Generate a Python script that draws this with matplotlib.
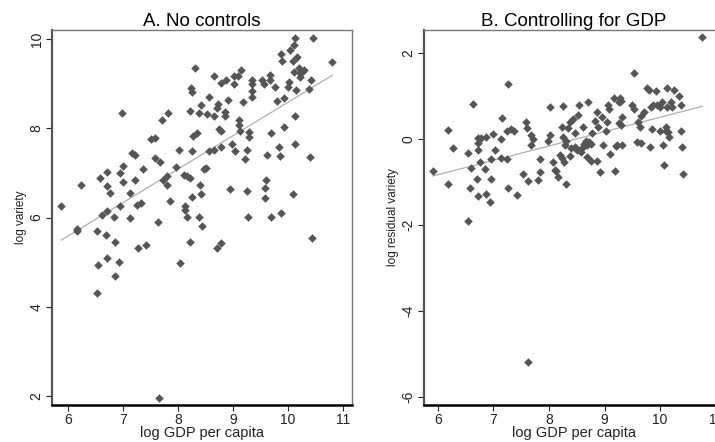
import numpy as np
import matplotlib
matplotlib.use("Agg")
import matplotlib.pyplot as plt

plt.rcParams["font.family"] = ["Liberation Sans", "DejaVu Sans"]
plt.rcParams["axes.unicode_minus"] = False

# panel A: log GDP per capita vs log variety
a_gdp = [5.88, 6.24, 6.98, 6.59, 6.71, 6.71, 6.77, 6.62, 6.71, 6.83, 6.95, 7.00,
         6.95, 7.00, 7.13, 7.13, 7.16, 7.22, 7.22, 7.25, 7.32, 7.36, 7.51, 7.59,
         7.59, 7.68, 7.70, 7.82, 7.72, 7.80, 7.80, 7.85, 7.64, 7.97, 8.02, 8.13,
         8.13, 8.10, 8.16, 8.22, 8.16, 8.25, 8.25, 8.24, 8.25, 8.22, 8.30, 8.28,
         8.35, 8.38, 8.38, 8.39, 8.41, 8.44, 8.42, 8.47, 8.50, 8.53, 8.56, 8.56,
         8.65, 8.65, 8.66, 8.70, 8.73, 8.74, 8.78, 8.78, 8.78, 8.86, 8.86, 8.88,
         8.91, 8.94, 8.98, 9.01, 9.02, 9.08, 9.03, 9.10, 9.10, 9.12, 9.15, 9.18,
         9.21, 9.25, 9.26, 9.27, 9.28, 9.28, 9.35, 9.35, 9.35, 9.35, 9.53, 9.56,
         9.58, 9.59, 9.58, 9.62, 9.67, 9.67, 9.69, 9.69, 9.77, 9.80, 9.84, 9.85,
         9.87, 9.88, 9.87, 9.93, 9.93, 9.99, 10.02, 10.03, 10.08, 10.10, 10.13, 10.13,
         10.13, 10.15, 10.09, 10.16, 10.11, 10.19, 10.22, 10.25, 10.28, 10.22, 10.38, 10.41,
         10.39, 10.45, 10.80, 6.16, 6.16, 6.53, 6.70, 6.85, 7.27, 7.42, 6.54, 6.71,
         6.93, 6.85, 6.53, 8.04, 8.22, 8.71, 8.78, 10.44, 7.66]
a_var = [6.25, 6.73, 8.33, 6.88, 7.03, 6.70, 6.56, 6.06, 6.14, 6.02, 6.25, 7.16,
         7.00, 6.79, 6.55, 6.00, 7.44, 7.41, 6.85, 6.29, 6.32, 7.09, 7.76, 7.78,
         7.33, 7.24, 8.19, 8.33, 6.85, 6.73, 6.94, 6.36, 5.91, 7.12, 7.52, 6.25,
         6.17, 6.96, 6.94, 6.88, 6.02, 7.48, 6.47, 8.90, 8.80, 8.39, 9.35, 7.83,
         7.89, 8.34, 6.02, 6.73, 6.52, 5.81, 8.53, 7.09, 7.11, 8.32, 8.71, 7.50,
         7.52, 9.18, 8.27, 8.45, 8.54, 7.98, 7.94, 7.59, 9.01, 8.36, 8.27, 9.09,
         8.64, 6.64, 7.65, 8.99, 9.18, 9.16, 7.48, 8.19, 8.08, 7.93, 9.31, 8.58,
         7.31, 7.52, 6.60, 6.01, 7.91, 7.80, 9.09, 9.00, 8.83, 8.71, 9.07, 9.00,
         6.66, 6.85, 6.44, 7.41, 9.20, 9.09, 7.89, 6.01, 8.92, 8.62, 7.59, 7.37,
         9.67, 9.51, 6.11, 8.68, 8.03, 8.92, 9.03, 9.75, 9.50, 9.87, 10.02, 8.28,
         7.65, 8.85, 6.53, 9.60, 9.27, 9.35, 9.24, 9.27, 9.31, 9.15, 8.88, 9.07,
         7.35, 10.01, 9.48, 5.74, 5.69, 5.70, 5.60, 5.45, 5.32, 5.38, 4.94, 5.10,
         5.00, 4.70, 4.30, 4.97, 5.45, 5.32, 5.42, 5.54, 1.96]

# panel B: log GDP per capita vs log residual variety
b_gdp = [5.91, 6.18, 6.19, 6.27, 6.54, 6.55, 6.57, 6.60, 6.64, 6.70, 6.72, 6.73,
         6.73, 6.77, 6.75, 6.72, 6.86, 6.84, 6.87, 6.93, 6.96, 6.96, 6.99, 7.02,
         7.14, 7.14, 7.16, 7.25, 7.25, 7.26, 7.27, 7.32, 7.37, 7.43, 7.53, 7.59,
         7.60, 7.63, 7.68, 7.71, 7.68, 7.80, 7.83, 7.84, 7.98, 8.02, 8.02, 8.08,
         8.10, 8.13, 8.17, 8.19, 8.23, 8.23, 8.25, 8.26, 8.27, 8.30, 8.29, 8.31,
         8.34, 8.37, 8.38, 8.40, 8.43, 8.46, 8.46, 8.50, 8.53, 8.54, 8.57, 8.60,
         8.62, 8.63, 8.66, 8.69, 8.69, 8.71, 8.72, 8.75, 8.75, 8.78, 8.83, 8.86,
         8.87, 8.89, 8.92, 8.96, 8.98, 9.02, 9.04, 9.07, 9.08, 9.10, 9.17, 9.19,
         9.21, 9.23, 9.26, 9.27, 9.29, 9.26, 9.29, 9.31, 9.32, 9.50, 9.53, 9.53,
         9.59, 9.60, 9.64, 9.65, 9.66, 9.71, 9.77, 9.80, 9.82, 9.83, 9.85, 9.88,
         9.92, 9.95, 10.00, 10.00, 10.04, 10.06, 10.07, 10.10, 10.10, 10.12, 10.12, 10.14,
         10.16, 10.19, 10.22, 10.25, 10.34, 10.37, 10.37, 10.40, 10.42, 10.76, 7.63]
b_res = [-0.75, 0.21, -1.04, -0.21, -0.32, -1.91, -1.15, -0.69, 0.82, -0.94, -0.25, -0.09,
         0.02, 0.02, -0.54, -1.33, 0.04, -0.71, -1.29, -1.48, -0.94, -0.46, 0.12, -0.25,
         0.00, -0.45, 0.48, -0.48, 0.17, 1.28, -1.15, 0.23, 0.17, -1.31, -0.82, 0.40,
         0.25, -0.98, 0.09, 0.00, -0.15, -0.96, -0.48, -0.77, -0.06, 0.75, 0.08, -0.54,
         -0.73, -0.75, -0.88, -0.38, -0.45, 0.28, 0.77, 0.04, -0.55, -1.06, -0.15, -0.06,
         0.25, 0.38, -0.41, -0.22, 0.45, 0.13, -0.19, -0.27, 0.55, 0.78, -0.31, -0.22,
         0.28, -0.12, -0.06, -0.15, -0.42, 0.86, -0.08, -0.12, -0.52, 0.13, 0.42, 0.63,
         -0.52, 0.27, -0.77, 0.50, -0.14, 0.17, 0.40, 0.78, 0.69, -0.35, 0.94, -0.75,
         -0.17, -0.14, 0.85, 0.94, 0.88, 0.37, 0.32, -0.14, 0.50, 0.78, 1.54, 0.69,
         -0.08, 0.40, 0.27, -0.09, 0.54, 0.63, 1.19, 1.14, -0.19, 0.73, 0.22, 0.78,
         1.12, 0.78, 0.73, 0.17, 0.86, -0.14, -0.62, 0.19, 0.27, 1.17, 0.73, 0.15,
         0.04, 0.86, 0.73, 1.14, 1.00, 0.78, 0.17, -0.19, -0.83, 2.36, -5.20]

W, H = 715, 442
fig = plt.figure(figsize=(W / 100, H / 100), dpi=100)
axA = fig.add_axes([52 / W, 37 / H, 300 / W, 375 / H])
axB = fig.add_axes([424 / W, 37 / H, 300 / W, 375 / H])

dot = "#555555"


def style(ax):
    for s in ["top", "right"]:
        ax.spines[s].set_color("#777777")
        ax.spines[s].set_linewidth(1.0)
    ax.spines["left"].set_color("#555555")
    ax.spines["left"].set_linewidth(1.6)
    ax.spines["bottom"].set_color("black")
    ax.spines["bottom"].set_linewidth(1.8)
    ax.tick_params(direction="out", length=4, width=0.8, labelsize=10,
                   colors="#222222", pad=2)
    ax.set_xticks([6, 7, 8, 9, 10, 11])
    for lab in ax.get_yticklabels():
        lab.set_rotation(90)
        lab.set_va("center")
    ax.set_xlabel("log GDP per capita", fontsize=10.5, labelpad=-1, color="#222222")


for ax, x, y in [(axA, a_gdp, a_var), (axB, b_gdp, b_res)]:
    x = np.array(x)
    y = np.array(y)
    b, a = np.polyfit(x, y, 1)
    xs = np.array([x.min(), x.max()])
    ax.plot(xs, a + b * xs, color="#b0b0b0", lw=0.9, zorder=1)
    ax.scatter(x, y, marker="D", s=19, color=dot, linewidths=0, zorder=2)

axA.set_xlim(5.71, 11.16)
axA.set_ylim(1.8, 10.2)
axA.set_yticks([2, 4, 6, 8, 10])
axA.set_ylabel("log variety", fontsize=8.5, labelpad=2, color="#222222")
axA.set_title("A. No controls", fontsize=13.5, pad=3)

axB.set_xlim(5.75, 11.15)
axB.set_ylim(-6.19, 2.53)
axB.set_yticks([-6, -4, -2, 0, 2])
axB.set_ylabel("log residual variety", fontsize=8.5, labelpad=2, color="#222222")
axB.set_title("B. Controlling for GDP", fontsize=13.5, pad=3)

style(axA)
style(axB)

fig.savefig("out.png", dpi=100)
